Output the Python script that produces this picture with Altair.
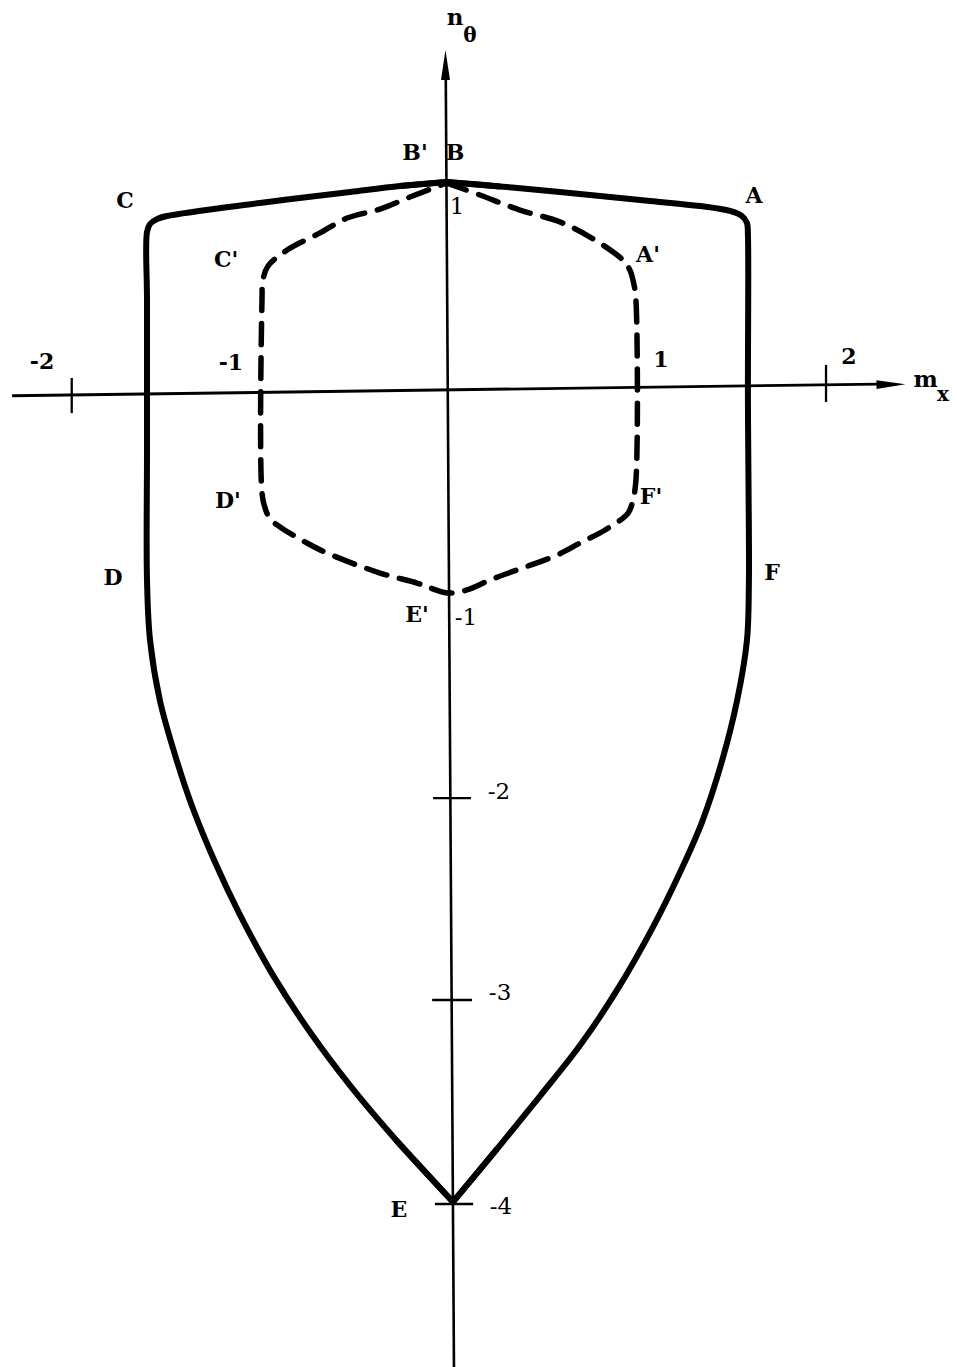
import altair as alt
import pandas as pd

# Plastic interaction diagram: membrane force n_theta against bending moment m_x.
# Outer solid curve A-B-C-D-E-F and inner dashed hexagon A'-B'-C'-D'-E'-F'.

X_DOMAIN = [-2.3831, 2.7019]
Y_DOMAIN = [-4.7941, 1.9069]

# outer yield curve, traced B -> A -> F -> E -> D -> C -> B
OUTER_X = [-0.011, 0.274, 0.592, 1.071, 1.336, 1.496, 1.559, 1.586, 1.591, 1.591,
           1.596, 1.596, 1.586, 1.533, 1.453, 1.347, 1.236, 1.087, 0.906, 0.704,
           0.486, 0.258, 0.024, -0.279, -0.513, -0.736, -0.933, -1.108, -1.241,
           -1.363, -1.443, -1.533, -1.586, -1.602, -1.602, -1.602, -1.602, -1.586,
           -1.549, -1.496, -1.002, -0.523, -0.258, -0.011]
OUTER_Y = [1.015, 0.993, 0.966, 0.922, 0.897, 0.873, 0.848, 0.814, 0.755, -0.054,
           -0.691, -0.961, -1.230, -1.529, -1.824, -2.123, -2.358, -2.637, -2.931,
           -3.211, -3.466, -3.725, -3.985, -3.681, -3.426, -3.152, -2.873, -2.578,
           -2.319, -2.044, -1.824, -1.529, -1.230, -0.936, -0.299, 0.436, 0.770,
           0.809, 0.833, 0.848, 0.912, 0.966, 0.995, 1.015]
E_INDEX = 22  # position of the lower vertex E in the outer lists

# inner dashed curve, traced B' -> A' -> F' -> E' -> D' -> C' -> B'
INNER_X = [-0.011, 0.167, 0.380, 0.592, 0.752, 0.927, 0.964, 0.986, 0.996, 0.996,
           0.980, 0.954, 0.832, 0.699, 0.577, 0.364, 0.221, 0.098, -0.003, -0.098,
           -0.167, -0.364, -0.646, -0.752, -0.895, -0.948, -0.975, -0.991, -0.991,
           -0.986, -0.959, -0.858, -0.683, -0.539, -0.364, -0.205, -0.011]
INNER_Y = [1.010, 0.951, 0.877, 0.819, 0.745, 0.632, 0.583, 0.510, 0.436, -0.446,
           -0.544, -0.608, -0.691, -0.755, -0.814, -0.887, -0.936, -0.985, -1.000,
           -0.975, -0.951, -0.902, -0.804, -0.755, -0.676, -0.637, -0.583, -0.510,
           0.436, 0.534, 0.603, 0.681, 0.765, 0.838, 0.882, 0.941, 1.010]

# hand-drawn axes (end points of each stroke)
MX_AXIS_X = [-2.319, 2.285]
MX_AXIS_Y = [-0.033, 0.024]
NT_AXIS_X = [-0.015, 0.029]
NT_AXIS_Y = [1.600, -4.794]

# tick strokes: (x1, y1, x2, y2)
TICK_X1 = [-2.002, 2.006, -0.082, -0.087, -0.072]
TICK_Y1 = [0.054, 0.118, -2.005, -2.995, -3.995]
TICK_X2 = [-2.002, 2.006, 0.120, 0.125, 0.131]
TICK_Y2 = [-0.118, -0.064, -2.005, -2.995, -3.995]

# tick labels on the m_x axis
MX_TICK_TEXT = ["-2", "-1", "1", "2"]
MX_TICK_TX = [-2.160, -1.156, 1.129, 2.128]
MX_TICK_TY = [0.132, 0.127, 0.142, 0.157]

# tick labels on the n_theta axis
NT_TICK_TEXT = ["1", "-1", "-2", "-3", "-4"]
NT_TICK_TX = [0.045, 0.093, 0.268, 0.274, 0.279]
NT_TICK_TY = [0.892, -1.123, -1.975, -2.961, -4.010]

# corner point names
POINT_TEXT = ["A", "B", "C", "D", "E", "F", "A'", "B'", "C'", "D'", "E'", "F'"]
POINT_TX = [1.623, 0.035, -1.719, -1.783, -0.263, 1.719,
            1.060, -0.178, -1.182, -1.172, -0.167, 1.076]
POINT_TY = [0.946, 1.157, 0.922, -0.926, -4.025, -0.902,
            0.657, 1.157, 0.632, -0.549, -1.108, -0.529]

# axis names (letter and subscript)
NAME_TEXT = ["m", "n"]
NAME_TX = [2.535, 0.035]
NAME_TY = [0.044, 1.819]
SUB_TEXT = ["x", "θ"]
SUB_TX = [2.628, 0.114]
SUB_TY = [-0.030, 1.730]

# arrow heads at the positive ends of the axes
ARROW_MX = (2.351, 0.022)
ARROW_NT = (-0.016, 1.588)

FONT = "DejaVu Serif"
INK = "#000000"

xs = alt.Scale(domain=X_DOMAIN, nice=False, zero=False)
ys = alt.Scale(domain=Y_DOMAIN, nice=False, zero=False)


def path_frame(pieces):
    rows = []
    for name, (xv, yv) in pieces.items():
        for i, (x, y) in enumerate(zip(xv, yv)):
            rows.append({"x": x, "y": y, "i": i, "piece": name})
    return pd.DataFrame(rows)


def path_layer(df, **mark):
    return alt.Chart(df).mark_line(color=INK, **mark).encode(
        x=alt.X("x:Q", scale=xs, axis=None),
        y=alt.Y("y:Q", scale=ys, axis=None),
        detail="piece:N",
        order="i:Q",
    )


# smooth flanks of the outer curve, meeting at B and E
outer_smooth = path_frame({
    "right": (OUTER_X[:E_INDEX + 1], OUTER_Y[:E_INDEX + 1]),
    "left": (OUTER_X[E_INDEX:], OUTER_Y[E_INDEX:]),
})
# sharp vertices B and E, drawn with mitred joins
outer_vertices = path_frame({
    "E": (OUTER_X[E_INDEX - 1:E_INDEX + 2], OUTER_Y[E_INDEX - 1:E_INDEX + 2]),
    "B": ([OUTER_X[-2], OUTER_X[0], OUTER_X[1]], [OUTER_Y[-2], OUTER_Y[0], OUTER_Y[1]]),
})

outer = path_layer(outer_smooth, strokeWidth=6, interpolate="catmull-rom",
                   strokeCap="round", strokeJoin="round")
outer_tips = path_layer(outer_vertices, strokeWidth=6, strokeJoin="miter",
                        strokeMiterLimit=20, strokeCap="butt")
inner = path_layer(path_frame({"inner": (INNER_X, INNER_Y)}), strokeWidth=5.5,
                   interpolate="catmull-rom", strokeDash=[21, 13],
                   strokeCap="round", strokeJoin="round")
mx_axis = path_layer(path_frame({"mx": (MX_AXIS_X, MX_AXIS_Y)}), strokeWidth=2.9)
nt_axis = path_layer(path_frame({"nt": (NT_AXIS_X, NT_AXIS_Y)}), strokeWidth=2.6)

ticks_df = pd.DataFrame({"x": TICK_X1, "y": TICK_Y1, "x2": TICK_X2, "y2": TICK_Y2})
ticks = alt.Chart(ticks_df).mark_rule(color=INK, strokeWidth=2.3).encode(
    x=alt.X("x:Q", scale=xs, axis=None),
    y=alt.Y("y:Q", scale=ys, axis=None),
    x2="x2:Q",
    y2="y2:Q",
)

arrow_shape_h = "M-1,-0.3L1,0L-1,0.3Z"
arrow_shape_v = "M-0.3,1L0,-1L0.3,1Z"

arrow_mx = alt.Chart(pd.DataFrame({"x": [ARROW_MX[0]], "y": [ARROW_MX[1]]})).mark_point(
    shape=arrow_shape_h, filled=True, size=841, color=INK, opacity=1, angle=359.2
).encode(x=alt.X("x:Q", scale=xs, axis=None), y=alt.Y("y:Q", scale=ys, axis=None))

arrow_nt = alt.Chart(pd.DataFrame({"x": [ARROW_NT[0]], "y": [ARROW_NT[1]]})).mark_point(
    shape=arrow_shape_v, filled=True, size=900, color=INK, opacity=1
).encode(x=alt.X("x:Q", scale=xs, axis=None), y=alt.Y("y:Q", scale=ys, axis=None))


def text_layer(labels, tx, ty, size, weight="normal"):
    df = pd.DataFrame({"t": labels, "x": tx, "y": ty})
    return alt.Chart(df).mark_text(
        font=FONT, fontSize=size, fontWeight=weight, color=INK,
        align="center", baseline="middle",
    ).encode(
        x=alt.X("x:Q", scale=xs, axis=None),
        y=alt.Y("y:Q", scale=ys, axis=None),
        text="t:N",
    )


mx_tick_labels = text_layer(MX_TICK_TEXT, MX_TICK_TX, MX_TICK_TY, 22, "bold")
nt_tick_labels = text_layer(NT_TICK_TEXT, NT_TICK_TX, NT_TICK_TY, 23)
point_labels = text_layer(POINT_TEXT, POINT_TX, POINT_TY, 22, "bold")
names = text_layer(NAME_TEXT, NAME_TX, NAME_TY, 23, "bold")
subs = text_layer(SUB_TEXT, SUB_TX, SUB_TY, 20, "bold")

chart = alt.layer(
    mx_axis, nt_axis, ticks, arrow_mx, arrow_nt,
    outer, outer_tips, inner,
    mx_tick_labels, nt_tick_labels, point_labels, names, subs,
).properties(
    width=957,
    height=1367,
    padding=0,
    autosize=alt.AutoSizeParams(type="none"),
    background="white",
).configure_view(stroke=None)

chart.save("out.html", embed_options={"renderer": "svg", "actions": False})
